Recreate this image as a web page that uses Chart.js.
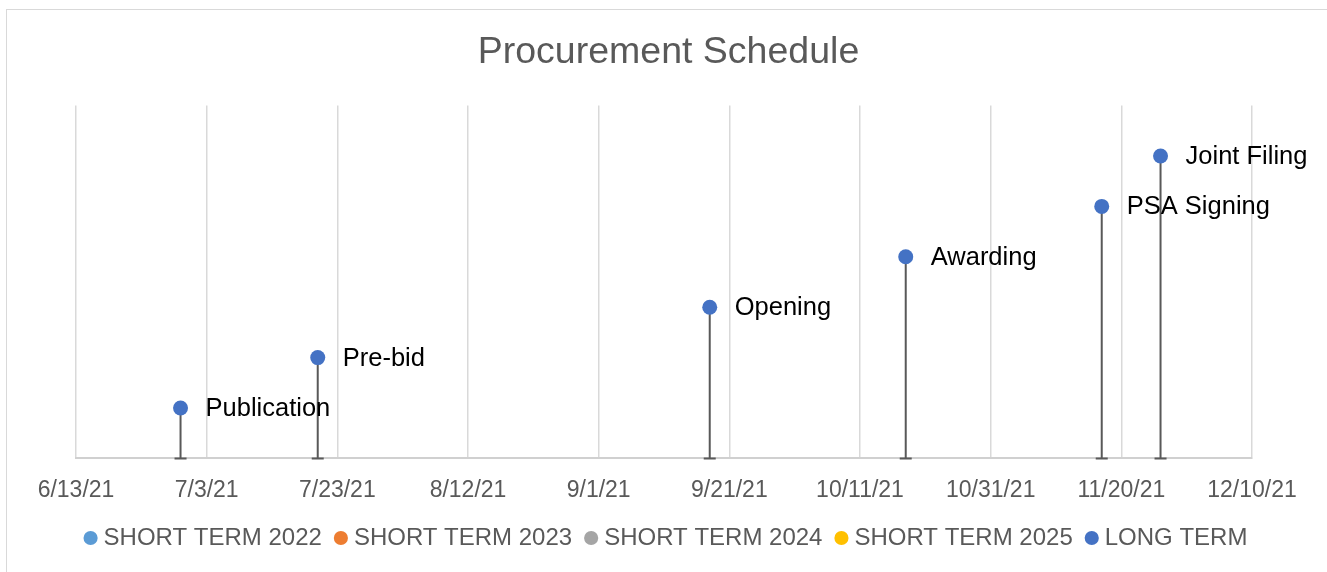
<!DOCTYPE html>
<html>
<head>
<meta charset="utf-8">
<script src="https://cdn.jsdelivr.net/npm/chart.js@4/dist/chart.umd.min.js"></script>
<style>
  html, body { margin: 0; padding: 0; background: #fff; overflow: hidden; }
  #frame { position: absolute; left: 6px; top: 9px; width: 1340px; height: 580px; border: 1px solid #d9d9d9; box-sizing: border-box; }
  #wrap { position: absolute; left: 0; top: 0; width: 1327px; height: 572px; }
</style>
</head>
<body>
<div id="frame"></div>
<div id="wrap"><canvas id="schedule"></canvas></div>
<script>
  // milestones of the long term procurement
  const milestones = ['Publication', 'Pre-bid', 'Opening', 'Awarding', 'PSA Signing', 'Joint Filing'];
  const milestoneDates = ['6/29/21', '7/20/21', '9/18/21', '10/18/21', '11/17/21', '11/26/21'];
  const milestoneLevels = [1, 2, 3, 4, 5, 6];

  const tickLabels = ['6/13/21', '7/3/21', '7/23/21', '8/12/21', '9/1/21', '9/21/21', '10/11/21', '10/31/21', '11/20/21', '12/10/21'];

  const seriesNames = ['SHORT TERM 2022', 'SHORT TERM 2023', 'SHORT TERM 2024', 'SHORT TERM 2025', 'LONG TERM'];
  const seriesColors = ['#5B9BD5', '#ED7D31', '#A5A5A5', '#FFC000', '#4472C4'];

  const FONT = '"Liberation Sans", Arial, sans-serif';

  function toDay(mdy) {
    const [m, d, y] = mdy.split('/').map(Number);
    return Date.UTC(2000 + y, m - 1, d) / 86400000;
  }

  // drop lines (error bar style) and the labels next to each point
  const dropLines = {
    id: 'dropLines',
    beforeDatasetsDraw(chart) {
      const ctx = chart.ctx;
      const meta = chart.getDatasetMeta(4);
      const base = chart.scales.y.getPixelForValue(0);
      ctx.save();
      ctx.strokeStyle = '#595959';
      ctx.lineWidth = 2;
      meta.data.forEach(pt => {
        ctx.beginPath();
        ctx.moveTo(pt.x, pt.y);
        ctx.lineTo(pt.x, base);
        ctx.moveTo(pt.x - 6, base);
        ctx.lineTo(pt.x + 6, base);
        ctx.stroke();
      });
      ctx.restore();
    },
    afterDatasetsDraw(chart) {
      const ctx = chart.ctx;
      const meta = chart.getDatasetMeta(4);
      ctx.save();
      ctx.fillStyle = '#000';
      ctx.font = '25.5px ' + FONT;
      ctx.textBaseline = 'middle';
      ctx.textAlign = 'left';
      meta.data.forEach((pt, i) => {
        ctx.fillText(milestones[i], pt.x + 25, pt.y + 1);
      });
      ctx.restore();
    }
  };

  // invisible side axes just to reserve the plot margins
  const hiddenAxis = (pos, w) => ({
    position: pos,
    display: true,
    min: 0,
    max: 7,
    ticks: { display: false },
    grid: { display: false },
    border: { display: false },
    afterFit: scale => { scale.width = w; }
  });

  window.addEventListener('DOMContentLoaded', () => {
    const ctx = document.getElementById('schedule').getContext('2d');

    const datasets = seriesNames.map((name, i) => ({
      label: name,
      data: [],
      backgroundColor: seriesColors[i],
      borderColor: seriesColors[i],
      pointRadius: 7.5,
      pointBorderWidth: 0,
      showLine: false
    }));
    datasets[4].data = milestoneDates.map((d, i) => ({ x: toDay(d), y: milestoneLevels[i] }));

    new Chart(ctx, {
      type: 'scatter',
      data: { datasets: datasets },
      plugins: [dropLines],
      options: {
        responsive: true,
        maintainAspectRatio: false,
        animation: false,
        events: [],
        layout: { padding: { left: 10, right: 0, top: 0, bottom: 12 } },
        scales: {
          x: {
            type: 'linear',
            min: toDay(tickLabels[0]),
            max: toDay(tickLabels[tickLabels.length - 1]),
            afterBuildTicks: scale => {
              scale.ticks = tickLabels.map(t => ({ value: toDay(t) }));
            },
            afterFit: scale => { scale.height -= 14; },
            ticks: {
              autoSkip: false,
              maxRotation: 0,
              padding: 18,
              color: '#595959',
              font: { family: FONT, size: 23 },
              callback: (v, i) => tickLabels[i]
            },
            grid: { color: '#d9d9d9', lineWidth: 1.5, drawTicks: false },
            border: { color: '#d0d0d0', width: 2 }
          },
          y: hiddenAxis('left', 66),
          yRight: hiddenAxis('right', 75)
        },
        plugins: {
          title: {
            display: true,
            text: 'Procurement Schedule',
            color: '#595959',
            font: { family: FONT, size: 37.5, weight: 'normal' },
            padding: { top: 30, bottom: 30.6 }
          },
          legend: {
            position: 'bottom',
            labels: {
              usePointStyle: true,
              pointStyle: 'circle',
              boxWidth: 2,
              boxHeight: 10,
              padding: 18,
              color: '#595959',
              font: { family: FONT, size: 24 }
            }
          },
          tooltip: { enabled: false }
        }
      }
    });
  });
</script>
</body>
</html>
